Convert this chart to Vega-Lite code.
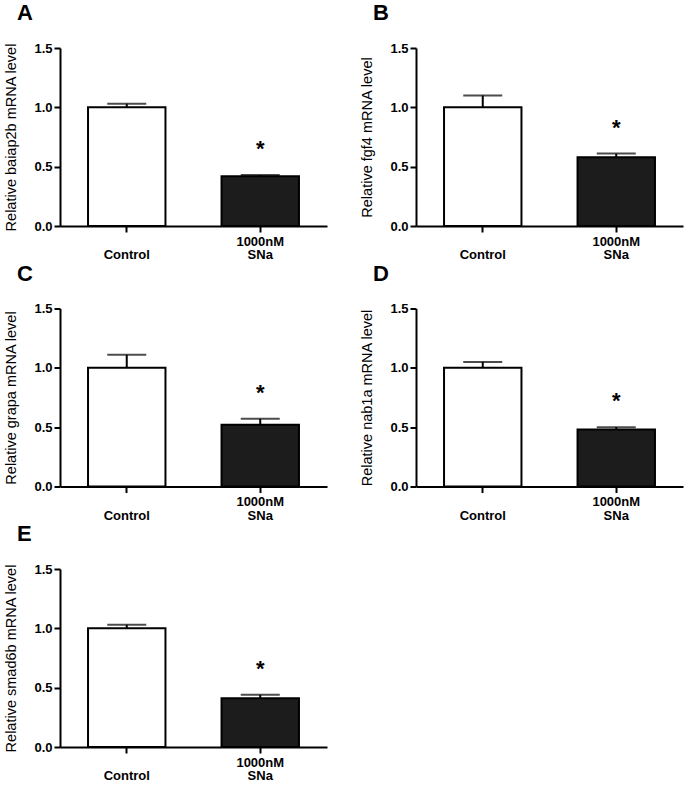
{
  "$schema": "https://vega.github.io/schema/vega-lite/v6.json",
  "padding": {"left": 3, "top": 2, "right": 3, "bottom": 0},
  "background": "white",
  "data": {"values": [
    {"panel": "A", "group": "Control", "value": 1.0, "err": 1.03, "sig": ""},
    {"panel": "A", "group": "1000nM SNa", "value": 0.42, "err": 0.43, "sig": "*"},
    {"panel": "B", "group": "Control", "value": 1.0, "err": 1.10, "sig": ""},
    {"panel": "B", "group": "1000nM SNa", "value": 0.58, "err": 0.61, "sig": "*"},
    {"panel": "C", "group": "Control", "value": 1.0, "err": 1.11, "sig": ""},
    {"panel": "C", "group": "1000nM SNa", "value": 0.52, "err": 0.57, "sig": "*"},
    {"panel": "D", "group": "Control", "value": 1.0, "err": 1.05, "sig": ""},
    {"panel": "D", "group": "1000nM SNa", "value": 0.48, "err": 0.50, "sig": "*"},
    {"panel": "E", "group": "Control", "value": 1.0, "err": 1.03, "sig": ""},
    {"panel": "E", "group": "1000nM SNa", "value": 0.41, "err": 0.44, "sig": "*"}
  ]},
  "columns": 2,
  "spacing": {"row": 0.5, "column": 32},
  "concat": [
    {
      "title": "A", "width": 267, "height": 178,
      "transform": [{"filter": "datum.panel == 'A'"}],
      "encoding": {"x": {"field": "group", "type": "nominal", "sort": ["Control", "1000nM SNa"], "title": null, "scale": {"paddingInner": 0.42, "paddingOuter": 0.21}}},
      "layer": [
        {"mark": {"type": "bar", "stroke": "black", "strokeWidth": 2}, "encoding": {"y": {"field": "value", "type": "quantitative", "title": "Relative baiap2b mRNA level", "scale": {"domain": [0, 1.5], "nice": false}, "axis": {"values": [0, 0.5, 1, 1.5], "format": ".1f"}}, "fill": {"field": "group", "type": "nominal", "scale": {"domain": ["Control", "1000nM SNa"], "range": ["#ffffff", "#1c1c1c"]}, "legend": null}}},
        {"mark": {"type": "rule", "strokeWidth": 2, "color": "black"}, "encoding": {"y": {"field": "value", "type": "quantitative", "title": "Relative baiap2b mRNA level"}, "y2": {"field": "err"}}},
        {"mark": {"type": "tick", "size": 39, "thickness": 2, "color": "black"}, "encoding": {"y": {"field": "err", "type": "quantitative", "title": "Relative baiap2b mRNA level"}}},
        {"mark": {"type": "text", "dy": -26, "fontSize": 22, "fontWeight": "bold", "baseline": "middle", "color": "black", "font": "Liberation Sans"}, "encoding": {"y": {"field": "err", "type": "quantitative", "title": "Relative baiap2b mRNA level"}, "text": {"field": "sig"}}}
      ]
    },
    {
      "title": "B", "width": 267, "height": 178,
      "transform": [{"filter": "datum.panel == 'B'"}],
      "encoding": {"x": {"field": "group", "type": "nominal", "sort": ["Control", "1000nM SNa"], "title": null, "scale": {"paddingInner": 0.42, "paddingOuter": 0.21}}},
      "layer": [
        {"mark": {"type": "bar", "stroke": "black", "strokeWidth": 2}, "encoding": {"y": {"field": "value", "type": "quantitative", "title": "Relative fgf4 mRNA level", "scale": {"domain": [0, 1.5], "nice": false}, "axis": {"values": [0, 0.5, 1, 1.5], "format": ".1f"}}, "fill": {"field": "group", "type": "nominal", "scale": {"domain": ["Control", "1000nM SNa"], "range": ["#ffffff", "#1c1c1c"]}, "legend": null}}},
        {"mark": {"type": "rule", "strokeWidth": 2, "color": "black"}, "encoding": {"y": {"field": "value", "type": "quantitative", "title": "Relative fgf4 mRNA level"}, "y2": {"field": "err"}}},
        {"mark": {"type": "tick", "size": 39, "thickness": 2, "color": "black"}, "encoding": {"y": {"field": "err", "type": "quantitative", "title": "Relative fgf4 mRNA level"}}},
        {"mark": {"type": "text", "dy": -26, "fontSize": 22, "fontWeight": "bold", "baseline": "middle", "color": "black", "font": "Liberation Sans"}, "encoding": {"y": {"field": "err", "type": "quantitative", "title": "Relative fgf4 mRNA level"}, "text": {"field": "sig"}}}
      ]
    },
    {
      "title": "C", "width": 267, "height": 178,
      "transform": [{"filter": "datum.panel == 'C'"}],
      "encoding": {"x": {"field": "group", "type": "nominal", "sort": ["Control", "1000nM SNa"], "title": null, "scale": {"paddingInner": 0.42, "paddingOuter": 0.21}}},
      "layer": [
        {"mark": {"type": "bar", "stroke": "black", "strokeWidth": 2}, "encoding": {"y": {"field": "value", "type": "quantitative", "title": "Relative grapa mRNA level", "scale": {"domain": [0, 1.5], "nice": false}, "axis": {"values": [0, 0.5, 1, 1.5], "format": ".1f"}}, "fill": {"field": "group", "type": "nominal", "scale": {"domain": ["Control", "1000nM SNa"], "range": ["#ffffff", "#1c1c1c"]}, "legend": null}}},
        {"mark": {"type": "rule", "strokeWidth": 2, "color": "black"}, "encoding": {"y": {"field": "value", "type": "quantitative", "title": "Relative grapa mRNA level"}, "y2": {"field": "err"}}},
        {"mark": {"type": "tick", "size": 39, "thickness": 2, "color": "black"}, "encoding": {"y": {"field": "err", "type": "quantitative", "title": "Relative grapa mRNA level"}}},
        {"mark": {"type": "text", "dy": -26, "fontSize": 22, "fontWeight": "bold", "baseline": "middle", "color": "black", "font": "Liberation Sans"}, "encoding": {"y": {"field": "err", "type": "quantitative", "title": "Relative grapa mRNA level"}, "text": {"field": "sig"}}}
      ]
    },
    {
      "title": "D", "width": 267, "height": 178,
      "transform": [{"filter": "datum.panel == 'D'"}],
      "encoding": {"x": {"field": "group", "type": "nominal", "sort": ["Control", "1000nM SNa"], "title": null, "scale": {"paddingInner": 0.42, "paddingOuter": 0.21}}},
      "layer": [
        {"mark": {"type": "bar", "stroke": "black", "strokeWidth": 2}, "encoding": {"y": {"field": "value", "type": "quantitative", "title": "Relative nab1a mRNA level", "scale": {"domain": [0, 1.5], "nice": false}, "axis": {"values": [0, 0.5, 1, 1.5], "format": ".1f"}}, "fill": {"field": "group", "type": "nominal", "scale": {"domain": ["Control", "1000nM SNa"], "range": ["#ffffff", "#1c1c1c"]}, "legend": null}}},
        {"mark": {"type": "rule", "strokeWidth": 2, "color": "black"}, "encoding": {"y": {"field": "value", "type": "quantitative", "title": "Relative nab1a mRNA level"}, "y2": {"field": "err"}}},
        {"mark": {"type": "tick", "size": 39, "thickness": 2, "color": "black"}, "encoding": {"y": {"field": "err", "type": "quantitative", "title": "Relative nab1a mRNA level"}}},
        {"mark": {"type": "text", "dy": -26, "fontSize": 22, "fontWeight": "bold", "baseline": "middle", "color": "black", "font": "Liberation Sans"}, "encoding": {"y": {"field": "err", "type": "quantitative", "title": "Relative nab1a mRNA level"}, "text": {"field": "sig"}}}
      ]
    },
    {
      "title": "E", "width": 267, "height": 178,
      "transform": [{"filter": "datum.panel == 'E'"}],
      "encoding": {"x": {"field": "group", "type": "nominal", "sort": ["Control", "1000nM SNa"], "title": null, "scale": {"paddingInner": 0.42, "paddingOuter": 0.21}}},
      "layer": [
        {"mark": {"type": "bar", "stroke": "black", "strokeWidth": 2}, "encoding": {"y": {"field": "value", "type": "quantitative", "title": "Relative smad6b mRNA level", "scale": {"domain": [0, 1.5], "nice": false}, "axis": {"values": [0, 0.5, 1, 1.5], "format": ".1f"}}, "fill": {"field": "group", "type": "nominal", "scale": {"domain": ["Control", "1000nM SNa"], "range": ["#ffffff", "#1c1c1c"]}, "legend": null}}},
        {"mark": {"type": "rule", "strokeWidth": 2, "color": "black"}, "encoding": {"y": {"field": "value", "type": "quantitative", "title": "Relative smad6b mRNA level"}, "y2": {"field": "err"}}},
        {"mark": {"type": "tick", "size": 39, "thickness": 2, "color": "black"}, "encoding": {"y": {"field": "err", "type": "quantitative", "title": "Relative smad6b mRNA level"}}},
        {"mark": {"type": "text", "dy": -26, "fontSize": 22, "fontWeight": "bold", "baseline": "middle", "color": "black", "font": "Liberation Sans"}, "encoding": {"y": {"field": "err", "type": "quantitative", "title": "Relative smad6b mRNA level"}, "text": {"field": "sig"}}}
      ]
    }
  ],
  "config": {
    "view": {"stroke": null},
    "font": "Liberation Sans",
    "title": {"font": "Liberation Sans", "fontSize": 22, "fontWeight": "bold", "color": "black", "anchor": "start", "frame": "group", "dx": -43, "offset": 17},
    "axis": {
      "grid": false,
      "domainColor": "black", "domainWidth": 2,
      "tickColor": "black", "tickWidth": 2, "tickSize": 6,
      "labelFont": "Liberation Sans", "labelFontSize": 13, "labelFontWeight": "bold", "labelColor": "black",
      "titleFont": "Liberation Sans", "titleFontSize": 14.5, "titleFontWeight": "normal", "titleColor": "black"
    },
    "axisY": {"labelPadding": 2, "titlePadding": 15},
    "axisX": {"labelAngle": 0, "labelBaseline": "top", "labelPadding": 3, "labelLineHeight": 13.5, "labelExpr": "datum.value == '1000nM SNa' ? ['1000nM', 'SNa'] : ['', datum.value]"}
  }
}
